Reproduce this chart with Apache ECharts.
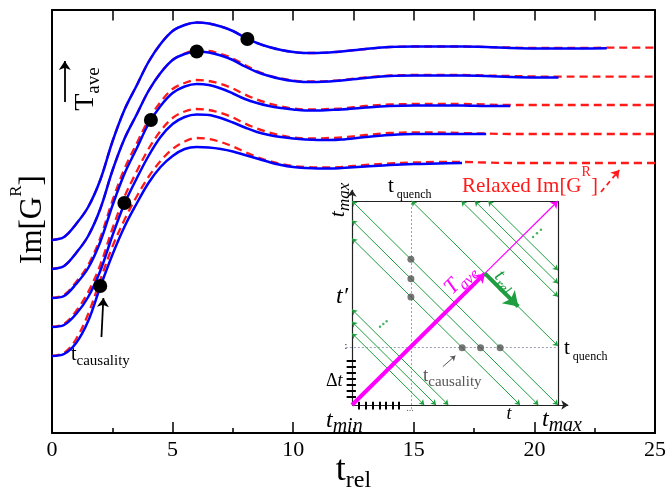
<!DOCTYPE html>
<html><head><meta charset="utf-8">
<script src="https://cdn.jsdelivr.net/npm/echarts@6/dist/echarts.min.js"></script>
<style>html,body{margin:0;padding:0;background:#fff}#c{width:668px;height:493px}</style>
</head><body><div id="c"></div>
<script>
const SERIF = "'Liberation Serif', 'Times New Roman', serif";

// x grid (t_rel)
const tRel = [0,0.5,1,1.5,2,2.5,3,3.5,4,4.5,5,5.5,6,6.5,7,7.5,8,8.5,9,9.5,10,10.5,11,11.5,12,13,14,15,16,17,18,19,20,21,22,23,24,25];

// Relaxed Im[G^R] (red dashed), one per T_ave
const red1 = [193,196,209,226,253,291,323,347,371,389,402,408,410.5,409.5,406.5,402,395.5,390,386,383,381,380,380,380.5,381.5,384,386,386.5,386.5,386.5,386,385.5,385,385,385,385.3,385.3,385.3];
const red2 = [164,167,180,197,224,262,294,318,342,360,373,379.5,382.5,382,379,374.5,368,362,357.5,354.5,352.5,351.5,351.5,352,353,355.5,357.5,358,358,358,357.5,357,356.5,356.3,356.3,356.3,356.3,356.3];
const red3 = [135,138,151,168,195,232,264,289,313,331,344,350,353,352,349,344.5,338.5,333.5,329.5,326.5,324.5,323.5,323.5,324,324.5,327,328.5,329,329,329,328.5,328,328,328,328,328,328,328];
const red4 = [106,109,122,141,168,204,236,261,284,302,315,321.5,324,323,320,315.5,309.5,304.5,300.5,297.5,295.5,294.5,294.5,295,295.5,298,300,300.5,300.5,300,299.5,299,299,299,299,299,299,299];
const red5 = [77,80,94,119,153,186,213,236,256,272,284,291.5,295,294,291,286.5,281,276,272,269,267,266,265.5,265.5,266,268,269.5,270.5,271,271,270.5,270,270,270,270,270,270,270];

// Im[G^R] (blue solid), truncated at t_max of each run
const blue1 = [193,196,209,226,253,291,323,347,371,389,402,408,410.5,409.5,406.5,402,395.5,390,386,383,381,380,380,380.5,381.5,384,386,386.5,386.5,386.5,386,385,384.5,384.5,384.5,384.7];
const blue2 = [164,167,180,197,224,262,294,318,342,360,373,379,381.5,380.5,377.5,373,366.5,361,357,354,352,351,351,351.5,352.5,355,357,357.5,357.5,357.5,357,356,355.5,355.5];
const blue3 = [135,137,149,165,191,227,259,284,309,327,340,346.5,349,348,344.5,339.5,334,330,327,325,323.5,322.5,322.5,323,323.5,325.5,327,327.5,327.5,327.5,327,327];
const blue4 = [106,108,119,136,162,197,229,254,277,296,309,316,318.5,318,315,310.5,305.5,301,298,296,294.5,293.5,293,293,293.5,296,298,299,299,299,299];
const blue5 = [77,79,90,112,146,178,206,229,250,266,277,284,286,285.5,284,281.5,278,274.5,271,268,266,265,264.5,264.5,265,266.5,268,269,269.5,270];

// t_causality markers
const dotT = [2.0, 3.0, 4.1, 6.0, 8.1];
const dotV = [147, 230, 313, 381.5, 394];

// inset diagram (unit square: t horizontal, t' vertical)
const greenFromLeft = [1.0, 0.905, 0.816, 0.468, 0.408, 0.351];
const greenFromTop = [1.289, 1.531, 1.596, 1.661];
const causalC = [1.0, 0.905, 0.816];
const quenchU = 0.286, quenchV = 0.281;
const tavePoint = [0.645, 0.645];
const trelEnd = [0.807, 0.483];
const tickV = [0.041,0.070,0.100,0.129,0.159,0.188,0.217];
const tickU = [0.035,0.068,0.100,0.133,0.165,0.198,0.225];
const ellipsisA = [[0.879,0.824],[0.898,0.842],[0.917,0.859]];
const ellipsisB = [[0.136,0.384],[0.152,0.397],[0.168,0.410]];

function pairs(ys){ return ys.map((y,i)=>[tRel[i], y]); }

const reds = [red1,red2,red3,red4,red5];
const blues = [blue1,blue2,blue3,blue4,blue5];
const series = [];
reds.forEach(r => series.push({
  type:'line', xAxisIndex:0, yAxisIndex:0, data:pairs(r), symbol:'none', smooth:0.35, z:2, silent:true,
  lineStyle:{color:'#ff1a1a', width:2.3, type:[8,5]}
}));
blues.forEach(b => series.push({
  type:'line', xAxisIndex:0, yAxisIndex:0, data:pairs(b), symbol:'none', smooth:0.35, z:3, silent:true,
  lineStyle:{color:'#0000ff', width:2.5}
}));
series.push({type:'scatter', xAxisIndex:0, yAxisIndex:0, data:dotT.map((t,i)=>[t,dotV[i]]),
  symbolSize:14, itemStyle:{color:'#000', opacity:1}, z:5, silent:true});
// annotation arrows in main panel
series.push({type:'lines', coordinateSystem:'cartesian2d', xAxisIndex:0, yAxisIndex:0, clip:false, z:6, silent:true,
  symbol:['none','arrow'], symbolSize:9, lineStyle:{color:'#000', width:1.8, opacity:1},
  data:[{coords:[[0.53,331],[0.53,372]]},{coords:[[2.05,96],[2.13,135]]}]});
series.push({type:'lines', coordinateSystem:'cartesian2d', xAxisIndex:0, yAxisIndex:0, clip:false, z:6, silent:true,
  symbol:['none','arrow'], symbolSize:8, lineStyle:{color:'#ff1a1a', width:1.8, type:[5,4], opacity:1},
  data:[{coords:[[22.76,241],[23.52,263]]}]});

// inset
const IX = 2, IY = 2;
function L(data, color, width, sym, size, type, z){
  return {type:'lines', coordinateSystem:'cartesian2d', xAxisIndex:IX, yAxisIndex:IY, clip:false, silent:true, z:z||10,
    symbol:sym, symbolSize:size, lineStyle:{color:color, width:width, type:type||'solid', opacity:1}, data:data};
}
const greenLines = greenFromLeft.map(c=>({coords:[[0,c],[c,0]]}))
  .concat(greenFromTop.map(c=>({coords:[[c-1,1],[1,c-1]]})));
series.push(L([{coords:[[quenchU,-0.02],[quenchU,1]]},{coords:[[-0.03,quenchV],[1,quenchV]]}], '#9a9fb5', 1, ['none','none'], 0, [2,2], 9));
series.push(L([{coords:[[0,1],[1,1]]},{coords:[[1,0],[1,1]]}], '#222', 1.2, ['none','none'], 0, 'solid', 10));
series.push(L([{coords:[[0,0],[0,1.055]]},{coords:[[0,0],[1.05,0]]}], '#222', 1.2, ['none','arrow'], 7, 'solid', 10));
series.push(L(greenLines, '#1f9e40', 1, ['arrow','arrow'], 5, 'solid', 11));
series.push(L(tickV.map(v=>({coords:[[-0.026,v],[0.019,v]]})).concat(tickU.map(u=>({coords:[[u,-0.022],[u,0.016]]}))), '#000', 2, ['none','none'], 0, 'solid', 12));
series.push(L([{coords:[[0,0],tavePoint]}], '#ff00ff', 4, ['none','arrow'], 9, 'solid', 13));
series.push(L([{coords:[tavePoint,[1,1]]}], '#ff00ff', 1.2, ['none','arrow'], 7, 'solid', 13));
series.push(L([{coords:[tavePoint,trelEnd]}], '#1f9e40', 4, ['none','arrow'], 14, 'solid', 13));
series.push(L([{coords:[[0.441,0.188],[0.502,0.242]]}], '#555', 1, ['none','arrow'], 5, 'solid', 13));
series.push({type:'scatter', xAxisIndex:IX, yAxisIndex:IY, clip:false, silent:true, z:14, symbolSize:7, itemStyle:{color:'#555'},
  data: causalC.map(c=>[quenchU, c-quenchU]).concat(causalC.map(c=>[c-quenchV, quenchV]))});
series.push({type:'scatter', xAxisIndex:IX, yAxisIndex:IY, clip:false, silent:true, z:14, symbolSize:2.5, itemStyle:{color:'#1f9e40'},
  data: ellipsisA.concat(ellipsisB)});

function tok(size, opts){ return Object.assign({fontSize:size, fontFamily:SERIF, fill:'#000', color:'#000'}, opts||{}); }
function T(x,y,text,rich,align,valign,rot){
  return {type:'text', x:x, y:y, rotation:rot||0, z:100, silent:true,
    style:{text:text, rich:rich, align:align||'left', verticalAlign:valign||'middle', fill:'#000', fontFamily:SERIF}};
}
const subRich = (a,b,extra,col)=>({
  t: tok(a, Object.assign({lineHeight:a+8}, extra||{}, col?{fill:col,color:col}:{})),
  s: tok(b, Object.assign({lineHeight:b+2, verticalAlign:'bottom'}, extra||{}, col?{fill:col,color:col}:{}))
});
const it = {fontStyle:'italic'};
const graphics = [
  T(86, 89, '{t|T}{s|ave}', subRich(28,19), 'center','middle', Math.PI/2),
  T(71, 355, '{t|t}{s|causality}', subRich(20,15), 'left','middle'),
  T(462, 186, '{a|Relaxed Im[G}{s|R}{a|]}', {
      a: tok(21,{lineHeight:42, fill:'#ff1a1a', color:'#ff1a1a'}),
      s: tok(14,{lineHeight:14, verticalAlign:'top', fill:'#ff1a1a', color:'#ff1a1a'})}, 'left','middle'),
  T(388, 186, '{t|t}{s| quench}', subRich(21,12), 'left','middle'),
  T(564, 348, '{t|t}{s| quench}', subRich(21,12), 'left','middle'),
  T(338, 200, '{t|t}{s|max}', subRich(22,17,it), 'center','middle', Math.PI/2),
  T(336, 297, '{t|t′}', {t: tok(24, it)}, 'left','middle'),
  T(326, 381, '{d|Δ}{t|t}', {d: tok(18), t: tok(18, it)}, 'left','middle'),
  T(326, 421, '{t|t}{s|min}', subRich(24,20,it), 'left','middle'),
  T(509, 414, '{t|t}', {t: tok(18, it)}, 'center','middle'),
  T(542, 420, '{t|t}{s|max}', subRich(24,20,it), 'left','middle'),
  T(423, 376, '{t|t}{s|causality}', subRich(19,15,null,'#555'), 'left','middle'),
  T(460, 279, '{t|T}{s|ave}', subRich(22,16,it,'#ff00ff'), 'center','middle', Math.PI/4),
  T(505, 281, '{t|t}{s|rel}', subRich(20,15,it,'#1f9e40'), 'center','middle', -Math.PI/4),
  T(346, 346, ':', {}, 'center','middle'),
  T(410, 408, '...', {}, 'center','middle')
];
graphics[14].style.fontSize = 10; graphics[15].style.fontSize = 10; graphics[15].style.fill = '#666';

const chart = echarts.init(document.getElementById('c'), null, {renderer:'canvas'});
chart.setOption({
  animation:false,
  backgroundColor:'#fff',
  textStyle:{fontFamily:SERIF},
  grid:[
    {left:52, right:13, top:10, bottom:60, outerBoundsMode:'none', containLabel:false},
    {left:352, top:201, width:206, height:204, outerBoundsMode:'none', containLabel:false}
  ],
  xAxis:[
    {type:'value', gridIndex:0, min:0, max:25, interval:5, position:'bottom',
     axisLine:{show:true, onZero:false, lineStyle:{color:'#000', width:2}},
     axisTick:{show:true, inside:true, length:11, lineStyle:{color:'#000', width:1.5}},
     minorTick:{show:true, splitNumber:2, length:5, lineStyle:{color:'#000', width:1.5}},
     axisLabel:{color:'#000', fontSize:22, fontFamily:SERIF, margin:6},
     splitLine:{show:false}, minorSplitLine:{show:false},
     name:'{t|t}{s|rel}', nameLocation:'middle', nameGap:16, nameMoveOverlap:false,
     nameTextStyle:{rich:{t:{fontSize:36, fontFamily:SERIF, color:'#000', lineHeight:44},
                          s:{fontSize:24, fontFamily:SERIF, color:'#000', lineHeight:24, verticalAlign:'bottom'}}}},
    {type:'value', gridIndex:0, min:0, max:25, interval:2.5, position:'top',
     axisLine:{show:true, onZero:false, lineStyle:{color:'#000', width:2}},
     axisTick:{show:true, inside:true, length:10.5, lineStyle:{color:'#000', width:1.5}},
     axisLabel:{show:false}, splitLine:{show:false}},
    {type:'value', gridIndex:1, min:0, max:1, show:false}
  ],
  yAxis:[
    {type:'value', gridIndex:0, min:0, max:423, position:'left',
     axisLine:{show:true, onZero:false, lineStyle:{color:'#000', width:2}},
     axisTick:{show:false}, axisLabel:{show:false}, splitLine:{show:false},
     name:'{a|Im[G}{s|R}{a|]}', nameLocation:'middle', nameRotate:90, nameGap:-6, nameMoveOverlap:false,
     nameTextStyle:{padding:[0,0,0,4], rich:{a:{fontSize:31, fontFamily:SERIF, color:'#000', lineHeight:50},
                          s:{fontSize:17, fontFamily:SERIF, color:'#000', lineHeight:14, verticalAlign:'top'}}}},
    {type:'value', gridIndex:0, min:0, max:423, position:'right',
     axisLine:{show:true, onZero:false, lineStyle:{color:'#000', width:2}},
     axisTick:{show:false}, axisLabel:{show:false}, splitLine:{show:false}},
    {type:'value', gridIndex:1, min:0, max:1, show:false}
  ],
  series: series,
  graphic:{elements: graphics}
});
</script></body></html>
